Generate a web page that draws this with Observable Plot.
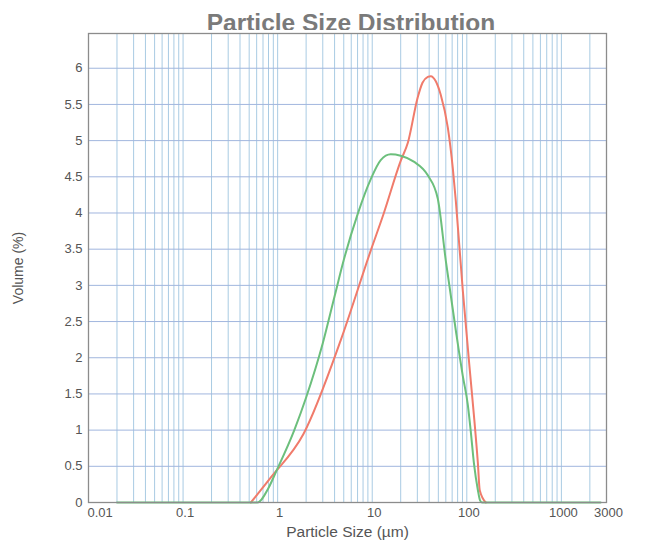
<!DOCTYPE html>
<html><head><meta charset="utf-8">
<script src="https://cdn.jsdelivr.net/npm/d3@7"></script>
<script src="https://cdn.jsdelivr.net/npm/@observablehq/plot@0.6"></script>
<style>
html,body{margin:0;padding:0;background:#fff;overflow:hidden;}
#wrap{position:relative;width:672px;height:540px;font-family:"Liberation Sans",Arial,sans-serif;}
#title{position:absolute;left:0;width:702px;top:9px;text-align:center;font-weight:bold;font-size:24.5px;line-height:28px;color:#7a7a7a;}
#chart{position:absolute;top:30px;left:0;}
</style></head><body>
<div id="wrap"><div id="title">Particle Size Distribution</div><div id="chart"></div></div>
<script>
// Particle size (µm) and volume (%)
const redSize   = [0.52, 0.84, 1.88, 4.64, 9.64, 13.2, 20.0, 23.8, 30.3, 34.0, 38.7, 41.6, 47.0, 53.1, 63.0, 71.1, 76.5, 90.7, 110, 119, 131, 137, 159];
const redVolume = [0, 0.34, 0.95, 2.24, 3.48, 3.99, 4.72, 4.97, 5.6, 5.8, 5.88, 5.89, 5.82, 5.63, 5.18, 4.62, 4.17, 2.93, 1.69, 1.2, 0.54, 0.17, 0];

const greenSize   = [0.02, 0.61, 0.8, 0.95, 1.5, 2.0, 3.0, 4.0, 5.0, 7.0, 9.6, 12.3, 15.7, 20.0, 27.5, 38.7, 49.3, 60.0, 76.5, 90.7, 102.5, 110, 119, 131, 138, 145, 2600];
const greenVolume = [0, 0, 0.2, 0.41, 1.0, 1.45, 2.2, 2.85, 3.35, 3.98, 4.46, 4.73, 4.81, 4.79, 4.71, 4.52, 4.2, 3.34, 2.38, 1.75, 1.35, 0.99, 0.54, 0.17, 0.03, 0, 0];

const xTicks = [0.01, 0.1, 1, 10, 100, 1000, 3000];
const yTicks = [0, 0.5, 1, 1.5, 2, 2.5, 3, 3.5, 4, 4.5, 5, 5.5, 6];
const decades = [0.01, 0.1, 1, 10, 100, 1000];
const multiples = [1, 2, 3, 4, 5, 6, 7, 8, 9];
const xLabel = ["Particle Size (µm)"];

const xGrid = decades.flatMap(d => multiples.map(m => +(d * m).toPrecision(3))).filter(v => v > 0.01 && v < 3000);

const red = redSize.map((s, i) => ({size: s, volume: redVolume[i]}));
const green = greenSize.map((s, i) => ({size: s, volume: greenVolume[i]}));

const chart = Plot.plot({
  width: 672,
  height: 510,
  marginTop: 3,
  marginBottom: 38,
  marginLeft: 88,
  marginRight: 66,
  style: {fontFamily: "Liberation Sans, Arial, sans-serif", fontSize: "13px", color: "#555", background: "#fff", overflow: "visible"},
  x: {type: "log", domain: [0.01, 3000], axis: null},
  y: {domain: [0, 6.48], ticks: yTicks, tickFormat: d => String(d), tickSize: 0, tickPadding: 6,
      label: "Volume (%)", labelAnchor: "center", labelOffset: 75, labelArrow: "none"},
  marks: [
    Plot.ruleX(xGrid, {stroke: "#a9cbe3", strokeWidth: 1}),
    Plot.ruleY(yTicks.filter(d => d > 0), {stroke: "#a1b6de", strokeWidth: 1}),
    Plot.line(red, {x: "size", y: "volume", stroke: "#f07b6b", strokeWidth: 2, curve: "monotone-x"}),
    Plot.line(green, {x: "size", y: "volume", stroke: "#6cbf7c", strokeWidth: 2, curve: "monotone-x"}),
    Plot.frame({stroke: "#8c8c8c", strokeWidth: 1.3}),
    Plot.text(xTicks.slice(0, 1), {x: d => d, text: d => String(d), frameAnchor: "bottom", lineAnchor: "top", textAnchor: "start", dx: -1, dy: 5, fill: "#555", fontSize: 13}),
    Plot.text(xTicks.slice(1), {x: d => d, text: d => String(d), frameAnchor: "bottom", lineAnchor: "top", dx: 2, dy: 5, fill: "#555", fontSize: 13}),
    Plot.text(xLabel, {text: d => d, frameAnchor: "bottom", lineAnchor: "top", dy: 23, fill: "#555", fontSize: 15.5})
  ]
});
const yl = chart.querySelector('g[aria-label="y-axis label"]');
if (yl) yl.setAttribute("font-size", "14");
document.getElementById("chart").appendChild(chart);
</script>
</body></html>
